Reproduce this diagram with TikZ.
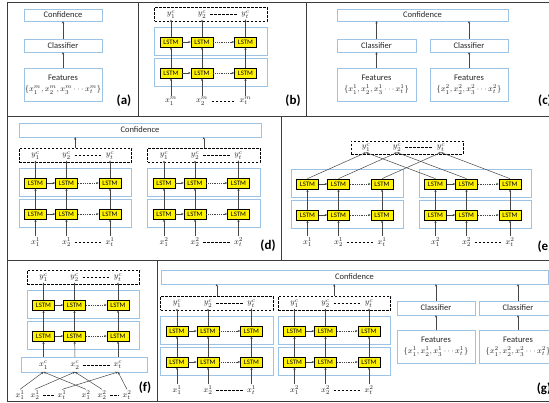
\documentclass[tikz,border=0pt]{standalone}
\usepackage[no-math]{fontspec}
\setmainfont{Carlito}
\usetikzlibrary{arrows.meta}
\definecolor{bluec}{RGB}{157,195,230}
\definecolor{arrc}{RGB}{70,70,70}
\definecolor{framec}{RGB}{60,60,60}
\tikzset{
  grp/.style={draw=bluec, line width=0.8pt, inner sep=0pt, outer sep=0pt},
  tbox/.style={grp, font=\fontsize{8.5}{10}\selectfont, align=center, text=black!85},
  lstm/.style={draw=black, fill=yellow, line width=0.7pt, minimum width=22pt, minimum height=10pt, inner sep=0pt, font=\fontsize{6.8}{6.8}\selectfont},
  dbox/.style={draw=black, line width=0.7pt, dash pattern=on 2.5pt off 1.5pt, inner sep=0pt},
  mlab/.style={font=\fontsize{8.5}{8.5}\selectfont, inner sep=0.8pt, text=black!85},
  arr/.style={draw=arrc, line width=0.5pt, -{Stealth[length=2.5pt,width=2.2pt]}},
  dots/.style={dash pattern=on 0.8pt off 1pt},
  dsh/.style={draw=black, line width=0.6pt, dash pattern=on 2.5pt off 1.5pt, shorten <=3pt, shorten >=3pt},
  plab/.style={font=\fontsize{13}{13}\selectfont\bfseries},
  frm/.style={draw=framec, line width=1pt},
}
\newcommand{\bx}[6]{\node[tbox, minimum width={(#4)-(#2)}, minimum height={(#5)-(#3)}] (#1) at ({((#2)+(#4))/2},{((#3)+(#5))/2}) {#6};}
\newcommand{\feat}[1]{{\fontsize{8}{8}\selectfont$\{x_1^{#1}, x_2^{#1}, x_3^{#1} \cdots x_t^{#1}\}$}}
\newcommand{\lstmstack}[3]{%
  \bx{#1G1}{#2-16.5}{#3}{#2+96}{#3+28}{}
  \bx{#1G2}{#2-16.5}{#3+31.5}{#2+96}{#3+59}{}
  \foreach \i/\dx in {1/0,2/31,3/74.5}{
    \node[lstm] (#1U\i) at (#2+\dx,#3+15) {LSTM};
    \node[lstm] (#1L\i) at (#2+\dx,#3+46) {LSTM};
    \draw[arr] (#1L\i) -- (#1U\i);
  }
  \draw[arr] (#1U1) -- (#1U2);
  \draw[arr,dots] (#1U2) -- (#1U3);
  \draw[arr] (#1L1) -- (#1L2);
  \draw[arr,dots] (#1L2) -- (#1L3);
}
\newcommand{\ybox}[3]{%
  \node[dbox, minimum width=112.5, minimum height=14] (#1YB) at (#2+39.75,#3-12.5) {};
  \node[mlab] (#1Y1) at (#2,#3-12.5) {$y_1^c$};
  \node[mlab] (#1Y2) at (#2+31,#3-12.5) {$y_2^c$};
  \node[mlab] (#1Y3) at (#2+74.5,#3-12.5) {$y_t^c$};
  \draw[dsh] (#1Y2.east) -- (#1Y3.west);
  \foreach \i in {1,2,3} \draw[arr] (#1U\i) -- (#1Y\i.south);
}
\newcommand{\xlabs}[4]{%
  \node[mlab] (#1X1) at (#2,#3) {$x_1^{#4}$};
  \node[mlab] (#1X2) at (#2+31,#3) {$x_2^{#4}$};
  \node[mlab] (#1X3) at (#2+74.5,#3) {$x_t^{#4}$};
  \draw[dsh] (#1X2.east) -- (#1X3.west);
  \foreach \i in {1,2,3} \draw[arr] (#1X\i) -- (#1L\i);
}
\begin{document}
\begin{tikzpicture}[x=1pt,y=-1pt]
\useasboundingbox (0,0) rectangle (549,403);
\clip (0,0) rectangle (549,403);
% frame and separators
\draw[frm] (7,3) rectangle (570,401);
\draw[frm] (7,117) -- (570,117);
\draw[frm] (7,261) -- (570,261);
\draw[frm] (138,3) -- (138,117);
\draw[frm] (306,3) -- (306,117);
\draw[frm] (281,117) -- (281,261);
\draw[frm] (157,261) -- (157,401);
% (a)
\bx{aConf}{24}{9}{102}{21}{Confidence}
\bx{aCls}{24}{39}{102}{52}{Classifier}
\bx{aFeat}{24}{68}{102}{101}{Features\\[1pt]\feat{m}}
\draw[arr] (aCls) -- (aConf);
\draw[arr] (aFeat) -- (aCls);
\node[plab] (aLab) at (124,101) {(a)};
% (b)
\lstmstack{b}{171}{27}
\ybox{b}{171}{27}
\xlabs{b}{171}{101}{m}
\node[plab] (bLab) at (293,101) {(b)};
% (c)
\bx{cConf}{337}{9}{508}{21}{Confidence}
\bx{cCls1}{337}{39}{416}{52}{Classifier}
\bx{cCls2}{430}{39}{508}{52}{Classifier}
\bx{cFeat1}{337}{68}{416}{101}{Features\\[1pt]\feat{1}}
\bx{cFeat2}{430}{68}{508}{101}{Features\\[1pt]\feat{2}}
\draw[arr] (cCls1) -- (cCls1 |- cConf.south);
\draw[arr] (cCls2) -- (cCls2 |- cConf.south);
\draw[arr] (cFeat1) -- (cCls1);
\draw[arr] (cFeat2) -- (cCls2);
\node[plab] (cLab) at (545,101) {(c)};
% (d)
\bx{dConf}{19}{123}{261}{137}{Confidence}
\lstmstack{dA}{35.5}{168}
\ybox{dA}{35.5}{168}
\xlabs{dA}{35.5}{242}{1}
\lstmstack{dB}{164}{168}
\ybox{dB}{164}{168}
\xlabs{dB}{164}{242}{2}
\draw[arr] (dAYB) -- (dAYB |- dConf.south);
\draw[arr] (dBYB) -- (dBYB |- dConf.south);
\node[plab] (dLab) at (268,246) {(d)};
% (e)
\lstmstack{eA}{307.5}{169}
\lstmstack{eB}{435.5}{169}
\node[dbox, minimum width=112, minimum height=13] (eYB) at (407,147.5) {};
\node[mlab] (eY1) at (366,147.5) {$y_1^c$};
\node[mlab] (eY2) at (397,147.5) {$y_2^c$};
\node[mlab] (eY3) at (441,147.5) {$y_t^c$};
\draw[dsh] (eY2.east) -- (eY3.west);
\foreach \i in {1,2,3}{
  \draw[arr] (eAU\i.north) -- (eY\i.south);
  \draw[arr] (eBU\i.north) -- (eY\i.south);
}
\xlabs{eA}{307.5}{242}{1}
\xlabs{eB}{435.5}{242}{2}
\node[plab] (eLab) at (545,247) {(e)};
% (f)
\lstmstack{f}{43.5}{290}
\ybox{f}{43.5}{290}
\bx{fXB}{21}{357}{147}{372}{}
\node[mlab] (fC1) at (43.5,365) {$x_1^c$};
\node[mlab] (fC2) at (75,365) {$x_2^c$};
\node[mlab] (fC3) at (118,365) {$x_t^c$};
\draw[dsh] (fC2.east) -- (fC3.west);
\foreach \i in {1,2,3} \draw[arr] (fC\i |- fXB.north) -- (fL\i);
\node[mlab] (fB1) at (20,395) {$x_1^1$};
\node[mlab] (fB2) at (35,395) {$x_2^1$};
\node[mlab] (fB3) at (62,395) {$x_t^1$};
\node[mlab] (fB4) at (86,395) {$x_1^2$};
\node[mlab] (fB5) at (102,395) {$x_2^2$};
\node[mlab] (fB6) at (127,395) {$x_t^2$};
\draw[dsh] (fB2.east) -- (fB3.west);
\draw[dsh] (fB5.east) -- (fB6.west);
\draw[arr] (fB1.north) -- (fC1 |- fXB.south);
\draw[arr] (fB2.north) -- (fC2 |- fXB.south);
\draw[arr] (fB3.north) -- (fC3 |- fXB.south);
\draw[arr] (fB4.north) -- (fC1 |- fXB.south);
\draw[arr] (fB5.north) -- (fC2 |- fXB.south);
\draw[arr] (fB6.north) -- (fC3 |- fXB.south);
\node[plab] (fLab) at (145,388) {(f)};
% (g)
\bx{gConf}{161}{270}{548}{284}{Confidence}
\lstmstack{gA}{177}{316}
\ybox{gA}{177}{316}
\xlabs{gA}{177}{390}{1}
\lstmstack{gB}{294.5}{316}
\ybox{gB}{294.5}{316}
\xlabs{gB}{294.5}{390}{2}
\draw[arr] (gAYB) -- (gAYB |- gConf.south);
\draw[arr] (gBYB) -- (gBYB |- gConf.south);
\bx{gCls1}{397}{301}{475}{315}{Classifier}
\bx{gCls2}{479}{301}{557}{315}{Classifier}
\bx{gFeat1}{397}{330}{475}{363}{Features\\[1pt]\feat{1}}
\bx{gFeat2}{479}{330}{557}{363}{Features\\[1pt]\feat{2}}
\draw[arr] (gCls1) -- (gCls1 |- gConf.south);
\draw[arr] (gCls2) -- (gCls2 |- gConf.south);
\draw[arr] (gFeat1) -- (gCls1);
\draw[arr] (gFeat2) -- (gCls2);
\node[plab] (gLab) at (544,389) {(g)};
\end{tikzpicture}
\end{document}
